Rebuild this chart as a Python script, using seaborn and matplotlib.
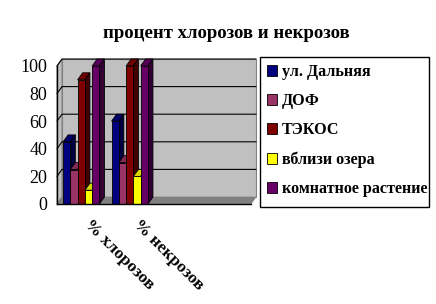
import matplotlib
matplotlib.use('Agg')
import matplotlib.pyplot as plt
from matplotlib.patches import Polygon, Rectangle, Patch
import matplotlib.colors as mcolors
import seaborn as sns
import pandas as pd
import numpy as np

# ---- data ----
title = 'процент хлорозов и некрозов'
categories = ['% хлорозов', '% некрозов', ' ', '  ']
series = ['ул. Дальняя', 'ДОФ', 'ТЭКОС', 'вблизи озера', 'комнатное растение']
ul_dalnyaya = [45, 60]
dof = [25, 30]
tekos = [90, 100]
vblizi_ozera = [10, 20]
komnatnoe = [100, 100]
yticks = [0, 20, 40, 60, 80, 100]
colors = ['#000080', '#993366', '#800000', '#FFFF00', '#660066']

values = [ul_dalnyaya, dof, tekos, vblizi_ozera, komnatnoe]
rows = []
for s, vals in zip(series, values):
    for c, v in zip(categories[:2], vals):
        rows.append({'cat': c, 'series': s, 'val': v})
df = pd.DataFrame(rows)

sns.set_style('white')
plt.rcParams['font.family'] = ['Liberation Serif', 'DejaVu Serif']
plt.rcParams['text.color'] = 'black'
plt.rcParams['xtick.color'] = 'black'
plt.rcParams['ytick.color'] = 'black'

W, H = 436, 304
fig = plt.figure(figsize=(W / 100, H / 100), dpi=100)
fig.patch.set_facecolor('white')
ax = fig.add_axes([57 / W, 1 - 204 / H, (251 - 57) / W, (204 - 66) / H])
ax.set_facecolor('none')

sns.barplot(data=df, x='cat', y='val', hue='series', order=categories,
            hue_order=series, palette=colors, width=0.75, gap=0,
            saturation=1, edgecolor='black', linewidth=0.6, ax=ax,
            legend=False, err_kws={'linewidth': 0})

ax.set_xlim(-0.5, len(categories) - 0.5)
ax.set_ylim(0, 100)

# depth offset in pixels -> data units
DX, DY = 5, 7
xr = (ax.get_xlim()[1] - ax.get_xlim()[0]) / (251 - 57)
yr = 100 / (204 - 66)
dxd, dyd = DX * xr, DY * yr

x0, x1 = ax.get_xlim()
# back wall, side wall, floor
ax.add_patch(Polygon([(x0 + dxd, dyd), (x1 + dxd, dyd), (x1 + dxd, 100 + dyd),
                      (x0 + dxd, 100 + dyd)], closed=True, facecolor='#C0C0C0',
                     edgecolor='#808080', linewidth=0.8, zorder=0, clip_on=False))
ax.add_patch(Polygon([(x0, 0), (x0 + dxd, dyd), (x0 + dxd, 100 + dyd), (x0, 100)],
                     closed=True, facecolor='#C0C0C0', edgecolor='#808080',
                     linewidth=0.8, zorder=0.2, clip_on=False))
ax.add_patch(Polygon([(x0, 0), (x1, 0), (x1 + dxd, dyd), (x0 + dxd, dyd)],
                     closed=True, facecolor='#808080', edgecolor='#808080',
                     linewidth=0.5, zorder=0.3, clip_on=False))
for t in yticks[1:]:
    ax.plot([x0, x0 + dxd, x1 + dxd], [t, t + dyd, t + dyd], color='black',
            linewidth=0.8, zorder=0.4, clip_on=False)

def shade(c, f):
    r, g, b = mcolors.to_rgb(c)
    return (r * f, g * f, b * f)

bars = [p for p in ax.patches if isinstance(p, Rectangle) and p.get_height() > 0
        and p.get_width() < 0.5]
bars.sort(key=lambda p: p.get_x())
for i, p in enumerate(bars):
    bx0 = p.get_x()
    bx1 = bx0 + p.get_width()
    h = p.get_height()
    fc = p.get_facecolor()
    z = 2 + i * 0.1
    p.set_zorder(z + 0.05)
    top = Polygon([(bx0, h), (bx1, h), (bx1 + dxd, h + dyd), (bx0 + dxd, h + dyd)],
                  closed=True, facecolor=shade(fc, 0.85), edgecolor='black',
                  linewidth=0.6, zorder=z, clip_on=False)
    side = Polygon([(bx1, 0), (bx1 + dxd, dyd), (bx1 + dxd, h + dyd), (bx1, h)],
                   closed=True, facecolor=shade(fc, 0.5), edgecolor='black',
                   linewidth=0.6, zorder=z, clip_on=False)
    ax.add_patch(top)
    ax.add_patch(side)

for s in ['top', 'right']:
    ax.spines[s].set_visible(False)
for s in ['left', 'bottom']:
    ax.spines[s].set_color('black')
    ax.spines[s].set_linewidth(1.0)
    ax.spines[s].set_zorder(5)

ax.set_yticks(yticks)
ax.set_yticklabels([str(t) for t in yticks], fontsize=13)
ax.tick_params(axis='y', length=4, width=1, color='black', direction='out', pad=3)

bounds = np.arange(len(categories) + 1) - 0.5
ax.set_xticks(bounds)
ax.set_xticklabels([''] * len(bounds))
ax.tick_params(axis='x', length=4, width=1, color='black', direction='out')
for i, c in enumerate(categories):
    ax.text(i + 0.12, -13, c, rotation=-45, rotation_mode='anchor', ha='left',
            va='center', fontsize=12.5, fontweight='bold', color='black')

ax.set_xlabel('')
ax.set_ylabel('')
fig.text(226 / W, 1 - 33 / H, title, ha='center', va='center', fontsize=13.5,
         fontweight='bold', color='black')

# legend frame and entries
fig.patches.append(Rectangle((260 / W, 1 - 207 / H), (429 - 260) / W, (207 - 57) / H,
                             transform=fig.transFigure, facecolor='white',
                             edgecolor='black', linewidth=1.0, zorder=1))
handles = [Patch(facecolor=c, edgecolor='black', linewidth=0.6) for c in colors]
leg = fig.legend(handles, series, loc='upper left',
                 bbox_to_anchor=(267 / W, 1 - 64 / H), frameon=False,
                 prop={'family': 'Liberation Serif', 'weight': 'bold', 'size': 11.6},
                 handlelength=0.65, handleheight=0.65, handletextpad=0.28,
                 labelspacing=0.82, borderpad=0, borderaxespad=0)
leg.set_zorder(2)
for t in leg.get_texts():
    t.set_color('black')

fig.savefig('out.png', dpi=100)
